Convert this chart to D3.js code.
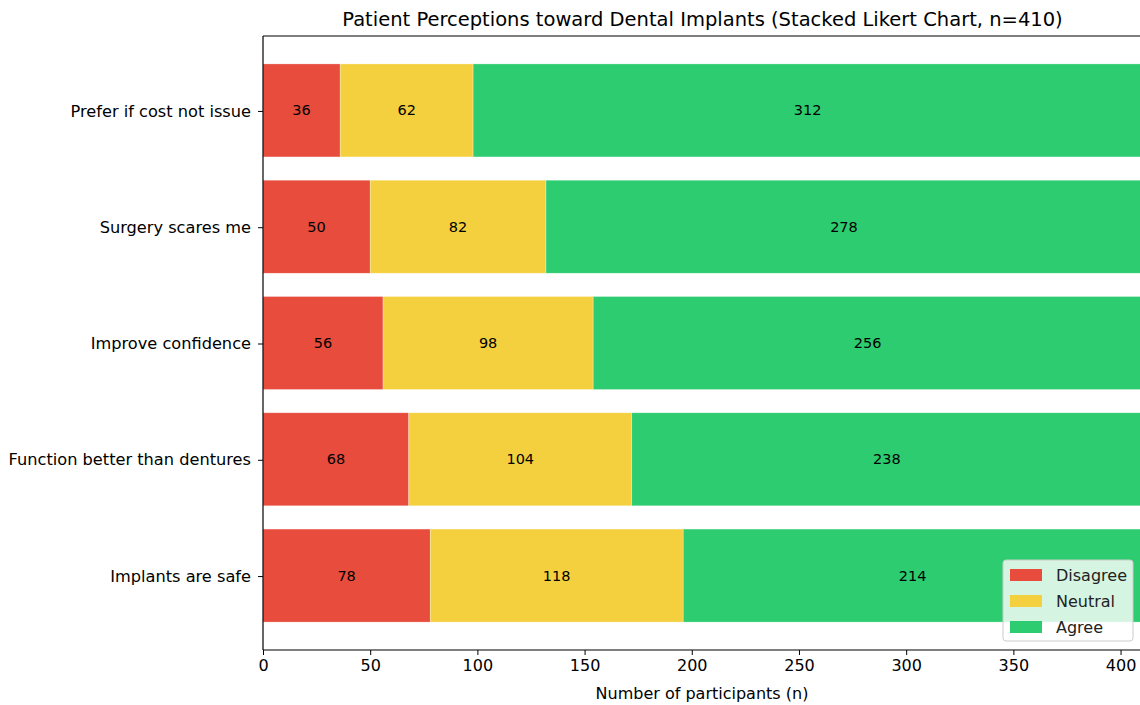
<!DOCTYPE html>
<html><head><meta charset="utf-8">
<script src="https://cdn.jsdelivr.net/npm/d3@7"></script>
<style>body{margin:0;background:#fff}svg{display:block;font-family:"DejaVu Sans",sans-serif}</style>
</head><body><svg id="c" width="1140" height="705"></svg>
<script>
const categories = ["Prefer if cost not issue","Surgery scares me","Improve confidence","Function better than dentures","Implants are safe"];
const seriesNames = ["Disagree","Neutral","Agree"];
const disagree = [36,50,56,68,78];
const neutral = [62,82,98,104,118];
const agree = [312,278,256,238,214];
const colors = ["#e74c3c","#f4d03f","#2ecc71"];
const xTicks = [0,50,100,150,200,250,300,350,400];
const N = 410;

const svg = d3.select("#c");
const L=263, R=1142, T=36, B=650;
const x = d3.scaleLinear().domain([0,N]).range([L,R]);
const y = d3.scaleBand().domain(categories).range([T,B]).paddingInner(0.2).paddingOuter(0.24);

const rows = categories.map((c,i)=>({cat:c, vals:[disagree[i],neutral[i],agree[i]]}));
const stack = d3.stack().keys([0,1,2]).value((d,k)=>d.vals[k]);
const layers = stack(rows);

svg.append("clipPath").attr("id","pc").append("rect").attr("x",L).attr("y",T).attr("width",R-L).attr("height",B-T);
const plot = svg.append("g").attr("clip-path","url(#pc)");
layers.forEach((layer,k)=>{
  plot.selectAll(null).data(layer).enter().append("rect")
    .attr("x",d=>x(d[0])).attr("y",d=>y(d.data.cat))
    .attr("width",d=>x(d[1])-x(d[0])).attr("height",y.bandwidth())
    .attr("fill",colors[k]).attr("stroke","#fff").attr("stroke-opacity",0.5).attr("stroke-width",0.6);
  plot.selectAll(null).data(layer).enter().append("text")
    .attr("x",d=>(x(d[0])+x(d[1]))/2).attr("y",d=>y(d.data.cat)+y.bandwidth()/2)
    .attr("text-anchor","middle").attr("dominant-baseline","central")
    .attr("font-size",14.5).attr("fill","#000").text(d=>d.data.vals[k]);
});

// axes
const xa = svg.append("g").attr("transform",`translate(0,${B})`)
  .call(d3.axisBottom(x).tickValues(xTicks).tickSize(5).tickPadding(5).tickFormat(d3.format("d")));
xa.select(".domain").remove();
xa.selectAll("text").attr("font-size",16).attr("fill","#000").attr("font-family","DejaVu Sans");
xa.selectAll("line").attr("stroke","#000").attr("stroke-width",1);
const ya = svg.append("g").attr("transform",`translate(${L},1)`)
  .call(d3.axisLeft(y).tickSize(5).tickPadding(7));
ya.select(".domain").remove();
ya.selectAll("text").attr("font-size",16.2).attr("fill","#000").attr("font-family","DejaVu Sans");
ya.selectAll("line").attr("stroke","#000");

// spines
svg.append("line").attr("x1",L).attr("x2",L).attr("y1",T).attr("y2",B).attr("stroke","#000").attr("stroke-width",1.2);
svg.append("line").attr("x1",L).attr("x2",R).attr("y1",B).attr("y2",B).attr("stroke","#000").attr("stroke-width",1.2);
svg.append("line").attr("x1",L).attr("x2",R).attr("y1",T).attr("y2",T).attr("stroke","#000").attr("stroke-width",1.2);

svg.append("text").attr("x",(L+R)/2).attr("y",26).attr("text-anchor","middle").attr("font-size",19.5).attr("fill","#000")
  .text("Patient Perceptions toward Dental Implants (Stacked Likert Chart, n=410)");
svg.append("text").attr("x",702).attr("y",699).attr("text-anchor","middle").attr("font-size",16).attr("fill","#000")
  .text("Number of participants (n)");

// legend
const lg = svg.append("g").attr("transform","translate(1003,560)");
lg.append("rect").attr("width",130).attr("height",81).attr("rx",3).attr("fill","#fff").attr("fill-opacity",0.8).attr("stroke","#ccc");
seriesNames.forEach((s,i)=>{
  lg.append("rect").attr("x",7).attr("y",9+i*26).attr("width",32).attr("height",12).attr("fill",colors[i]);
  lg.append("text").attr("x",53).attr("y",15+i*26).attr("dominant-baseline","central").attr("font-size",16).attr("fill","#222").text(s);
});
</script></body></html>
